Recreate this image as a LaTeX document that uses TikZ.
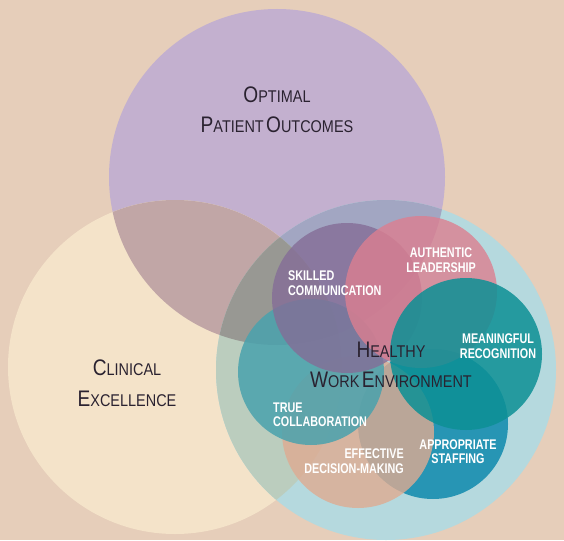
\documentclass[tikz,border=0pt]{standalone}
\usepackage{fontspec}
\newfontfamily\darkfont{Liberation Sans}[FakeStretch=0.85]
\newfontfamily\lblfont{Liberation Sans}[FakeStretch=0.77]
\definecolor{bgc}{HTML}{E6CEBA}
\definecolor{purplec}{HTML}{C3B0CF}
\definecolor{creamc}{HTML}{F4E3C9}
\definecolor{lbluec}{HTML}{B5D9DE}
\definecolor{pcc}{HTML}{C1A6A6}
\definecolor{pbc}{HTML}{A2A6C2}
\definecolor{cbc}{HTML}{BBCDBE}
\definecolor{pcbc}{HTML}{989893}
\definecolor{skillc}{HTML}{846D97}
\definecolor{pinkc}{HTML}{DC7F90}
\definecolor{recogc}{HTML}{0C9095}
\definecolor{staffc}{HTML}{0F8AAD}
\definecolor{decic}{HTML}{DFAB91}
\definecolor{collc}{HTML}{4AA2AD}
\definecolor{darktext}{HTML}{2A2230}
\newcommand\SCbig[2]{{\fontsize{22.5}{24}\selectfont #1}{\fontsize{17}{20}\selectfont #2}}
\tikzset{
  darklbl/.style={inner sep=0pt, text=darktext, font=\darkfont},
  whitelbl/.style={inner sep=0pt, text=white, font=\lblfont\bfseries\fontsize{14}{15}\selectfont},
}
\begin{document}
\begin{tikzpicture}[x=1pt,y=-1pt]
\useasboundingbox (0,0) rectangle (564,540);
\fill[bgc] (0,0) rectangle (564,540);
% big circles
\coordinate (P) at (277,177);
\coordinate (C) at (175,367);
\coordinate (B) at (386,370);
\fill[purplec] (P) circle[radius=168pt];
\fill[creamc] (C) circle[radius=167pt];
\fill[lbluec] (B) circle[radius=170pt];
\begin{scope}
  \clip (P) circle[radius=168pt];
  \fill[pcc] (C) circle[radius=167pt];
\end{scope}
\begin{scope}
  \clip (P) circle[radius=168pt];
  \fill[pbc] (B) circle[radius=170pt];
\end{scope}
\begin{scope}
  \clip (C) circle[radius=167pt];
  \fill[cbc] (B) circle[radius=170pt];
\end{scope}
\begin{scope}
  \clip (P) circle[radius=168pt];
  \clip (C) circle[radius=167pt];
  \fill[pcbc] (B) circle[radius=170pt];
\end{scope}
% small circles
\fill[staffc, fill opacity=0.85] (433,424) circle[radius=75pt];
\fill[decic, fill opacity=0.8] (358,432) circle[radius=76pt];
\fill[collc, fill opacity=0.85] (311,372) circle[radius=73pt];
\fill[skillc, fill opacity=0.8] (347,298) circle[radius=75pt];
\fill[pinkc, fill opacity=0.8] (421,292) circle[radius=76pt];
\fill[recogc, fill opacity=0.85] (466,354) circle[radius=76pt];
% dark labels
\node[darklbl, anchor=base] (opt1) at (277,103) {\SCbig{O}{PTIMAL}};
\node[darklbl, anchor=base] (opt2) at (277,133) {\SCbig{P}{ATIENT} \SCbig{O}{UTCOMES}};
\node[darklbl, anchor=base] (cli1) at (127,375) {\SCbig{C}{LINICAL}};
\node[darklbl, anchor=base] (cli2) at (127,406) {\SCbig{E}{XCELLENCE}};
\node[darklbl, anchor=base] (hwe1) at (391,357) {\SCbig{H}{EALTHY}};
\node[darklbl, anchor=base] (hwe2) at (391,387) {\SCbig{W}{ORK} \SCbig{E}{NVIRONMENT}};
% white labels
\node[whitelbl, anchor=base west] (sk1) at (288,280) {SKILLED};
\node[whitelbl, anchor=base west] (sk2) at (288,295) {COMMUNICATION};
\node[whitelbl, anchor=base] (au1) at (441,257) {AUTHENTIC};
\node[whitelbl, anchor=base] (au2) at (441,272) {LEADERSHIP};
\node[whitelbl, anchor=base] (me1) at (498,343) {MEANINGFUL};
\node[whitelbl, anchor=base] (me2) at (498,358) {RECOGNITION};
\node[whitelbl, anchor=base west] (tr1) at (273,412) {TRUE};
\node[whitelbl, anchor=base west] (tr2) at (273,426) {COLLABORATION};
\node[whitelbl, anchor=base east] (ef1) at (404,458) {EFFECTIVE};
\node[whitelbl, anchor=base east] (ef2) at (404,473) {DECISION-MAKING};
\node[whitelbl, anchor=base] (ap1) at (458,449) {APPROPRIATE};
\node[whitelbl, anchor=base] (ap2) at (458,463) {STAFFING};
\end{tikzpicture}
\end{document}
